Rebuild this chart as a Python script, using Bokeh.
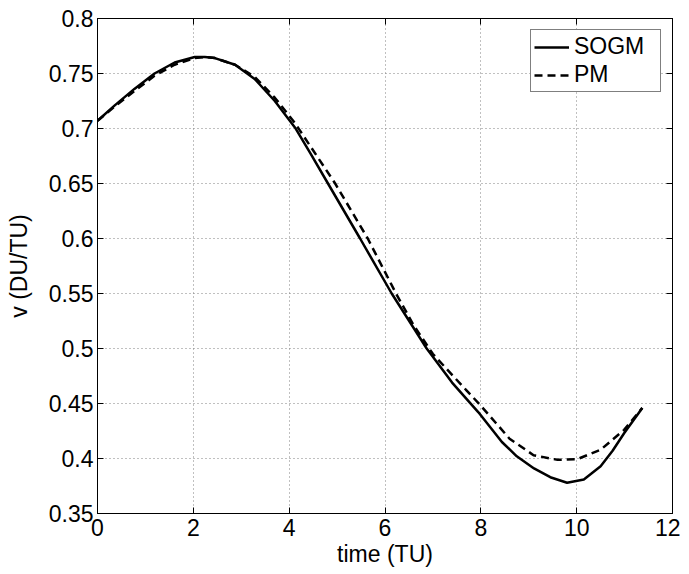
from bokeh.plotting import figure
from bokeh.models import FixedTicker, LinearAxis, Legend, LegendItem
from bokeh.embed import file_html
from bokeh.resources import INLINE

# data
t_sogm = [0.0, 0.36, 0.77, 1.19, 1.61, 2.03, 2.24, 2.45, 2.87, 3.28, 3.70, 4.12, 4.45,
          4.81, 5.48, 6.14, 6.87, 7.40, 7.95, 8.44, 8.75, 9.11, 9.45, 9.80, 10.15,
          10.50, 10.75, 10.99, 11.37]
v_sogm = [0.707, 0.721, 0.736, 0.750, 0.760, 0.765, 0.765, 0.764, 0.758, 0.745, 0.725, 0.701,
          0.677, 0.650, 0.600, 0.550, 0.500, 0.469, 0.442, 0.415, 0.402, 0.391, 0.383, 0.378,
          0.381, 0.393, 0.407, 0.423, 0.446]

t_pm = [0.0, 0.36, 0.77, 1.19, 1.61, 2.03, 2.24, 2.45, 2.87, 3.28, 3.70, 4.12,
        4.96, 5.64, 6.23, 6.60, 7.00, 7.40, 7.70, 8.00, 8.30, 8.60, 9.10, 9.60, 10.02,
        10.50, 10.99, 11.37]
v_pm = [0.707, 0.720, 0.734, 0.748, 0.758, 0.764, 0.765, 0.764, 0.758, 0.747, 0.728, 0.705,
        0.650, 0.600, 0.550, 0.521, 0.495, 0.476, 0.462, 0.448, 0.433, 0.418, 0.403, 0.3988,
        0.3995, 0.408, 0.426, 0.446]

x_ticks = [0, 2, 4, 6, 8, 10, 12]
y_ticks = [0.35, 0.4, 0.45, 0.5, 0.55, 0.6, 0.65, 0.7, 0.75, 0.8]
y_tick_labels = ["0.35", "0.4", "0.45", "0.5", "0.55", "0.6", "0.65", "0.7", "0.75", "0.8"]

FONT = "Liberation Sans"
FS = "23px"

p = figure(width=680, height=569, x_range=(0, 12), y_range=(0.35, 0.8),
           output_backend="svg", toolbar_location=None,
           min_border_left=97, min_border_right=8, min_border_top=18, min_border_bottom=10)
p.background_fill_color = "white"
p.border_fill_color = "white"
p.outline_line_color = "black"
p.outline_line_width = 1

r1 = p.line(t_sogm, v_sogm, line_color="black", line_width=2.5)
r2 = p.line(t_pm, v_pm, line_color="black", line_width=2.5, line_dash="8 5")

p.xaxis.ticker = FixedTicker(ticks=x_ticks)
p.yaxis.ticker = FixedTicker(ticks=y_ticks)
p.yaxis.major_label_overrides = {v: s for v, s in zip(y_ticks, y_tick_labels)}
p.xaxis.axis_label = "time (TU)"
p.yaxis.axis_label = "v (DU/TU)"

for ax in (p.xaxis[0], p.yaxis[0]):
    ax.major_label_text_font = FONT
    ax.major_label_text_font_size = FS
    ax.major_label_text_color = "black"
    ax.axis_label_text_font = FONT
    ax.axis_label_text_font_size = FS
    ax.axis_label_text_font_style = "normal"
    ax.axis_label_text_color = "black"
    ax.major_tick_in = 6
    ax.major_tick_out = 0
    ax.minor_tick_in = 0
    ax.minor_tick_out = 0
    ax.axis_line_color = "black"
    ax.major_tick_line_color = "black"

p.xaxis.major_label_standoff = 5
p.xaxis.axis_label_standoff = 2
p.yaxis.major_label_standoff = 4
p.yaxis.axis_label_standoff = 14

# box ticks on top and right
for side in ("right", "above"):
    ax = LinearAxis(ticker=FixedTicker(ticks=y_ticks if side == "right" else x_ticks))
    ax.major_label_text_font_size = "0px"
    ax.major_label_standoff = 0
    ax.major_tick_in = 6
    ax.major_tick_out = 0
    ax.minor_tick_in = 0
    ax.minor_tick_out = 0
    ax.axis_line_color = "black"
    ax.major_tick_line_color = "black"
    p.add_layout(ax, side)

p.grid.grid_line_color = "#808080"
p.grid.grid_line_dash = "1 3"
p.grid.grid_line_width = 1
p.xgrid.ticker = FixedTicker(ticks=x_ticks)
p.ygrid.ticker = FixedTicker(ticks=y_ticks)

legend = Legend(items=[LegendItem(label="SOGM", renderers=[r1]),
                       LegendItem(label="PM", renderers=[r2])],
                location="top_right")
legend.label_text_font = FONT
legend.label_text_font_size = FS
legend.label_text_color = "black"
legend.border_line_color = "black"
legend.border_line_width = 1
legend.background_fill_color = "white"
legend.background_fill_alpha = 1
legend.glyph_width = 35
legend.glyph_height = 20
legend.label_height = 20
legend.label_width = 83
legend.label_standoff = 5
legend.padding = 3
legend.spacing = 1
legend.margin = 11
p.add_layout(legend, "center")

open("out.html", "w").write(file_html(p, INLINE))
